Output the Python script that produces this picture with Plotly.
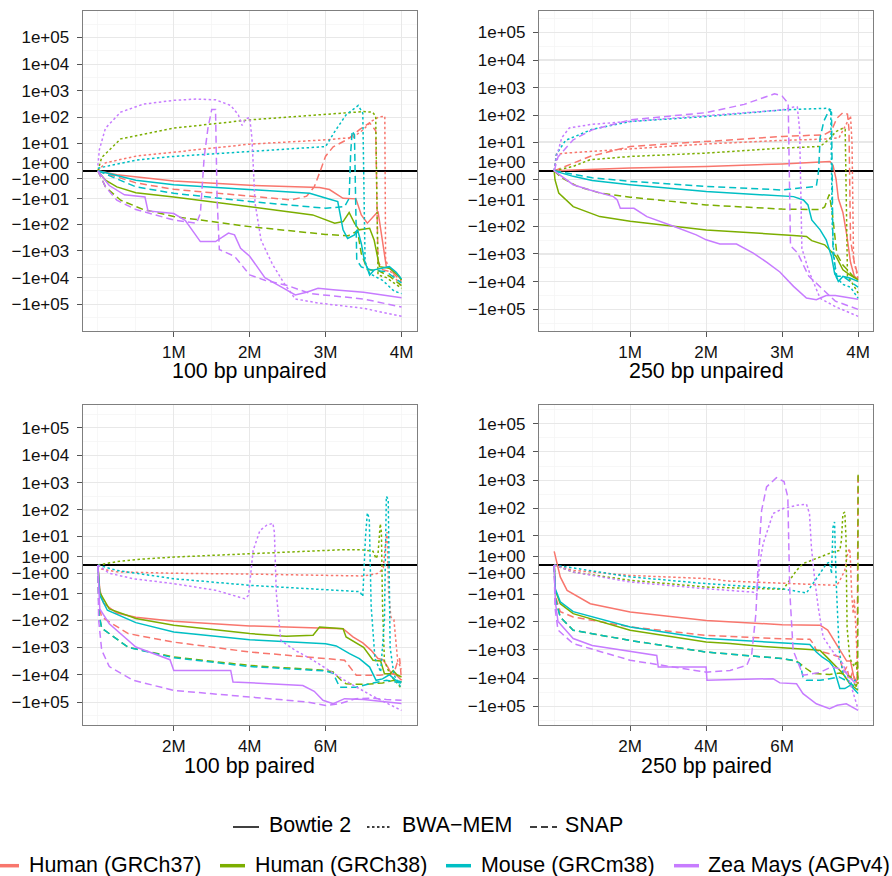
import numpy as np
import plotly.graph_objects as go

# ---------------- data (x: millions of reads, y: cumulative difference) ----------------
# ----- 100 bp unpaired -----
u100_h37_bt_x = [0, 0.25, 1, 2, 2.6, 2.92, 3.05, 3.23, 3.40, 3.47, 3.55, 3.69, 3.80, 3.90, 4.0]
u100_h37_bt_y = [0, -0.41, -1.4, -2.47, -2.98, -3.17, -4.0, -9.7, -10.2, -43.7, -90.2, -32.1, -3889, -5622, -12303]
u100_h37_bwa_x = [0, 0.1, 0.5, 1, 2, 3, 3.36, 3.5, 3.6, 3.7, 3.78, 3.79, 3.86, 4.0]
u100_h37_bwa_y = [0, 1.0, 2.55, 4.01, 9, 13.5, 16.8, 34.5, 69.8, 104, 111, -2187, -6025, -21878]
u100_h37_snap_x = [0, 0.5, 1, 2, 2.55, 2.75, 2.85, 2.93, 3.0, 3.1, 3.3, 3.45, 3.58, 3.66, 3.69, 3.75, 3.88, 4.0]
u100_h37_snap_y = [0, -1.82, -3.9, -8.12, -11.3, -7.91, -2.98, 0, 2.55, 6.94, 14.8, 34.5, 62.1, 30.6, -2511, -5011, -6309, -14125]
u100_h38_bt_x = [0, 0.1, 0.25, 0.5, 1, 2, 2.6, 2.83, 3.12, 3.23, 3.31, 3.38, 3.44, 3.58, 3.64, 3.71, 3.84, 3.97, 4.0]
u100_h38_bt_y = [0, -1.24, -2.98, -5.61, -8.55, -20.9, -34.5, -43.7, -90.2, -78.4, -35.3, -90.2, -161, -140, -397, -3889, -4466, -9119, -12303]
u100_h38_bwa_x = [0, 0.05, 0.3, 1, 2, 3, 3.5, 3.62, 3.66, 3.69, 3.8, 4.0]
u100_h38_bwa_y = [0, 2.16, 14.8, 38.8, 80.3, 134, 165, 157, 109, -7942, -10000, -25119]
u100_h38_snap_x = [0, 0.1, 0.3, 0.6, 1, 2, 3, 3.3, 3.42, 3.47, 3.55, 3.7, 3.85, 4.0]
u100_h38_snap_y = [0, -2.98, -11.6, -27.2, -50.3, -122, -239, -268, -177, -1258, -5011, -5622, -9119, -19953]
u100_mm_bt_x = [0, 0.5, 1, 2, 2.79, 3.01, 3.16, 3.23, 3.29, 3.38, 3.42, 3.47, 3.51, 3.58, 3.64, 3.84, 3.93, 4.0]
u100_mm_bt_y = [0, -1.24, -2.31, -4.13, -5.92, -9.7, -13.1, -161, -338, -250, -157, -524, -2187, -7942, -5128, -3889, -6309, -11220]
u100_mm_bwa_x = [0, 0.5, 1, 2, 3, 3.12, 3.27, 3.43, 3.49, 3.52, 3.58, 3.75, 3.9, 4.0]
u100_mm_bwa_y = [0.26, 1.51, 2.47, 4.25, 7.13, 28.5, 125, 281, 144, -2511, -7078, -12589, -31623, -39811]
u100_mm_snap_x = [0, 0.5, 1, 2, 3, 3.25, 3.31, 3.33, 3.35, 3.38, 3.41, 3.47, 3.6, 3.8, 4.0]
u100_mm_snap_y = [0, -2.98, -5.92, -13.1, -24.1, -20.9, -9.7, 3.57, 30.6, 21.4, -2187, -3980, -5128, -6025, -15849]
u100_zm_bt_x = [0, 0.15, 0.35, 0.62, 0.66, 1.0, 1.15, 1.35, 1.55, 1.72, 1.8, 1.88, 2.0, 2.2, 2.45, 2.6, 2.75, 2.9, 3.1, 3.5, 4.0]
u100_zm_bt_y = [0, -2.55, -6.94, -8.55, -30.6, -38.8, -69.8, -446, -446, -213, -250, -793, -1584, -10000, -25119, -44668, -35481, -25119, -28184, -35481, -56234]
u100_zm_bwa_x = [0, 0.02, 0.1, 0.3, 0.6, 1.0, 1.3, 1.55, 1.75, 1.85, 1.9, 1.95, 2.0, 2.03, 2.07, 2.15, 2.3, 2.45, 2.6, 2.9, 3.5, 4.0]
u100_zm_bwa_y = [0.58, 5.31, 38.8, 157, 315, 436, 489, 456, 281, 125, 49.1, 88.1, 99, 14.8, -14.8, -397, -3161, -15849, -63096, -89125, -141254, -281838]
u100_zm_snap_x = [0, 0.1, 0.25, 0.5, 1.0, 1.3, 1.35, 1.4, 1.45, 1.5, 1.55, 1.57, 1.6, 1.8, 2.0, 2.2, 2.5, 2.8, 3.5, 4.0]
u100_zm_snap_y = [0, -2.98, -11.6, -27.2, -68.2, -90.2, -38.8, 2.16, 38.8, 199, 199, -9, -890, -1584, -7942, -12589, -19953, -39811, -63096, -125893]

# ----- 250 bp unpaired -----
u250_h37_bt_x = [0, 1, 2, 3, 3.63, 3.67, 3.71, 3.74, 3.8, 3.85, 3.9, 3.95, 4.0]
u250_h37_bt_y = [0, 0.26, 0.45, 0.78, 1.19, 0.58, -1.0, -9, -30.6, -199, -1994, -6309, -8510]
u250_h37_bwa_x = [0, 0.03, 0.2, 1, 2, 3, 3.6, 3.75, 3.85, 3.9, 3.92, 3.94, 4.0]
u250_h37_bwa_y = [0, 2.98, 3.47, 5.03, 8.33, 11.6, 13.1, 14.8, 49.1, 94.5, 9, -1584, -7942]
u250_h37_snap_x = [0, 0.25, 0.47, 1, 2, 3, 3.55, 3.65, 3.72, 3.8, 3.86, 3.88, 3.9, 3.95, 4.0]
u250_h37_snap_y = [0, 0.91, 2.31, 6.59, 10.5, 16.4, 19, 27.2, 78.4, 125, 111, 30.6, -315, -1994, -6309]
u250_h38_bt_x = [0, 0.01, 0.06, 0.25, 0.6, 1, 2, 3, 3.15, 3.32, 3.39, 3.56, 3.63, 3.71, 3.8, 3.89, 4.0]
u250_h38_bt_y = [0, -1.09, -5.31, -18.5, -43.7, -65.1, -134, -190, -213, -233, -330, -467, -707, -1229, -3714, -5622, -8510]
u250_h38_bwa_x = [0, 0.25, 0.47, 1, 2, 3, 3.5, 3.61, 3.71, 3.8, 3.83, 3.86, 3.9, 4.0]
u250_h38_bwa_y = [0, 0.45, 1.51, 2.31, 3.37, 5.61, 6.59, 12.2, 25.3, 33.7, 30.6, -6456, -8912, -25704]
u250_h38_snap_x = [0, 0.1, 0.3, 0.6, 1, 2, 3, 3.5, 3.56, 3.62, 3.66, 3.72, 3.8, 3.9, 4.0]
u250_h38_snap_y = [0, -0.78, -2.55, -5.31, -7.91, -16, -23, -24.1, -19, -6.08, -30.6, -999, -2511, -5011, -10000]
u250_mm_bt_x = [0, 0.25, 0.5, 1, 2, 3, 3.15, 3.28, 3.34, 3.39, 3.5, 3.58, 3.65, 3.69, 3.74, 3.8, 3.89, 4.0]
u250_mm_bt_y = [0, -0.58, -1.24, -2.16, -4.62, -6.94, -7.51, -10.2, -16, -57.9, -134, -308, -1229, -4897, -9771, -6456, -7412, -9771]
u250_mm_bwa_x = [0, 0.03, 0.15, 0.5, 1, 2, 3, 3.6, 3.64, 3.66, 3.7, 3.8, 3.9, 4.0]
u250_mm_bwa_y = [0, 2.98, 11.6, 30.6, 59.3, 90.2, 157, 181, 157, -99, -6309, -12589, -15849, -39811]
u250_mm_snap_x = [0, 0.5, 1, 2, 3, 3.45, 3.48, 3.5, 3.55, 3.62, 3.65, 3.67, 3.72, 3.8, 4.0]
u250_mm_snap_y = [0, -0.78, -1.4, -2.63, -3.9, -2.63, 0, 14.8, 62.1, 157, 125, -999, -6309, -6309, -15849]
u250_zm_bt_x = [0, 0.25, 0.47, 0.78, 0.83, 0.87, 1.05, 1.22, 1.57, 1.87, 2.0, 2.18, 2.4, 2.62, 2.8, 2.97, 3.15, 3.32, 3.45, 3.58, 3.7, 4.0]
u250_zm_bt_y = [0, -2.16, -3.9, -7.51, -10.2, -21.4, -21.4, -43.7, -99, -203, -308, -436, -436, -932, -1994, -4466, -14791, -38905, -44668, -31623, -31623, -42658]
u250_zm_bwa_x = [0, 0.03, 0.1, 0.2, 0.5, 1, 2, 2.5, 3.0, 3.15, 3.2, 3.23, 3.26, 3.35, 3.5, 3.7, 4.0]
u250_zm_bwa_y = [0, 2.16, 14.8, 34.5, 46.9, 59.3, 99, 125, 157, 199, 199, 30.6, -630, -3980, -39811, -79433, -177828]
u250_zm_snap_x = [0, 0.05, 0.25, 0.5, 1, 2, 2.5, 2.9, 3.0, 3.08, 3.11, 3.2, 3.35, 3.5, 3.7, 4.0]
u250_zm_snap_y = [0, 2.16, 12.2, 29.2, 68.2, 125, 250, 602, 500, 274, -500, -890, -6309, -15849, -50119, -100000]

# ----- 100 bp paired -----
p100_h37_bt_x = [0, 0.05, 0.15, 0.5, 1, 2, 4, 6, 6.46, 6.72, 6.98, 7.2, 7.38, 7.51, 7.64, 7.73, 7.85, 8.0]
p100_h37_bt_y = [0, -6.94, -24.1, -55.2, -78.4, -111, -165, -199, -208, -416, -691, -1287, -2569, -2817, -5247, -9119, -10000, -15849]
p100_h37_bwa_x = [0, 0.1, 0.5, 2, 4, 6, 7.0, 7.4, 7.52, 7.58, 7.62, 7.66, 7.72, 7.8, 7.85, 7.9, 8.0]
p100_h37_bwa_y = [0, -0.41, -0.78, -1.0, -1.14, -1.4, -1.51, -1.0, -0.26, 5.31, 14.8, -9, -78.4, -99, -793, -3161, -6309]
p100_h37_snap_x = [0, 0.03, 0.1, 0.8, 2, 4, 6, 6.5, 6.81, 7.42, 7.8, 7.9, 7.95, 8.0]
p100_h37_snap_y = [0, -30.6, -78.4, -315, -645, -1478, -2569, -2950, -10471, -10471, -8912, -3161, -2511, -15849]
p100_h38_bt_x = [0, 0.05, 0.3, 1, 2, 4, 4.96, 5.67, 5.84, 6.46, 6.54, 7.0, 7.25, 7.45, 7.55, 7.7, 7.78, 7.88, 8.0]
p100_h38_bt_y = [0, -9, -38.8, -88.1, -157, -315, -397, -362, -181, -208, -416, -999, -2950, -3161, -9119, -9119, -7078, -10000, -12023]
p100_h38_bwa_x = [0, 0.5, 1, 2, 4, 6, 6.5, 7.0, 7.25, 7.33, 7.38, 7.44, 7.47, 7.5, 7.55, 7.7, 8.0]
p100_h38_bwa_y = [0, 0.32, 0.58, 0.95, 1.57, 2.39, 2.63, 2.55, 2.16, 0.7, 1.51, 30.6, 14.8, -30.6, -3161, -10000, -31623]
p100_h38_snap_x = [0, 0.03, 0.1, 0.8, 2, 4, 6, 6.2, 6.41, 6.54, 7.0, 7.5, 7.8, 8.0]
p100_h38_snap_y = [0, -62.1, -199, -999, -2238, -4570, -6917, -7942, -15849, -21380, -22387, -19953, -15849, -18197]
p100_mm_bt_x = [0, 0.05, 0.25, 1, 2, 4, 6, 6.28, 6.63, 6.89, 7.16, 7.33, 7.5, 7.68, 7.85, 8.0]
p100_mm_bt_y = [0, -11.6, -43.7, -125, -274, -524, -740, -890, -1697, -2569, -5247, -15849, -14125, -10000, -15849, -18197]
p100_mm_bwa_x = [0, 0.5, 2, 4, 6, 6.9, 6.98, 7.05, 7.1, 7.15, 7.2, 7.3, 7.45, 7.55, 7.6, 7.65, 7.7, 7.8, 8.0]
p100_mm_bwa_y = [0, -0.58, -2.16, -4.5, -6.94, -8.33, -13.1, 9, 78.4, 49.1, -30.6, -2511, -7942, -99, 315, 250, -999, -10000, -31623]
p100_mm_snap_x = [0, 0.03, 0.1, 0.8, 2, 4, 6, 6.2, 6.37, 6.8, 7.25, 7.6, 8.0]
p100_mm_snap_y = [0, -62.1, -199, -999, -2398, -5011, -7244, -8912, -28184, -28184, -19953, -15849, -19953]
p100_zm_bt_x = [0, 0.05, 0.3, 1.0, 1.9, 2.0, 3.5, 3.56, 5.4, 5.7, 5.93, 6.2, 6.5, 7.0, 8.0]
p100_zm_bt_y = [0, -38.8, -137, -976, -2817, -6917, -6917, -18197, -24547, -39811, -85114, -112202, -74131, -79433, -112202]
p100_zm_bwa_x = [0, 0.3, 0.93, 2, 3.1, 3.56, 3.87, 3.97, 4.09, 4.27, 4.45, 4.61, 4.65, 4.7, 4.82, 5.2, 5.67, 6.5, 7.2, 8.0]
p100_zm_bwa_y = [0, -1.0, -2.16, -3.79, -7.32, -11.6, -16, -11.6, 2.39, 17.2, 27.2, 32.1, 14.8, -9, -561, -1287, -2950, -15849, -56234, -199526]
p100_zm_snap_x = [0, 0.02, 0.1, 0.3, 0.93, 2, 4, 5.5, 6.0, 6.37, 6.8, 7.2, 7.6, 8.0]
p100_zm_snap_y = [0, -99, -1258, -5011, -15849, -37154, -64565, -97724, -131826, -112202, -74131, -70795, -79433, -85114]

# ----- 250 bp paired -----
p250_h37_bt_x = [0, 0.07, 0.16, 0.34, 0.95, 2, 4, 6, 7.0, 7.2, 7.4, 7.55, 7.7, 7.8, 7.9, 8.0]
p250_h37_bt_y = [2.02, 0.12, -1.63, -6.94, -22.4, -44.7, -90.2, -128, -134, -199, -561, -1258, -2511, -2511, -11220, -15849]
p250_h37_bwa_x = [0, 0.5, 2, 4, 4.63, 6.38, 7.43, 7.5, 7.65, 7.73, 7.78, 7.8, 7.83, 7.87, 7.9, 7.95, 8.0]
p250_h37_bwa_y = [0, -0.55, -1.34, -2.02, -2.72, -3.57, -4.25, -2.98, -0.55, 1.88, 2.8, 0.26, -9, -51.5, -14.8, -315, -12023]
p250_h37_snap_x = [0, 0.03, 0.16, 0.5, 2, 4, 6, 6.73, 6.82, 6.9, 7.25, 7.5, 7.62, 7.7, 7.78, 7.85, 7.97, 8.0]
p250_h37_snap_y = [0, -11.6, -43.7, -68.2, -154, -308, -406, -426, -602, -1046, -1379, -1777, -6309, -3980, -12023, -6309, -15849, 1584]
p250_h38_bt_x = [0, 0.03, 0.16, 0.5, 2, 4, 4.63, 5.5, 6.82, 7.0, 7.17, 7.4, 7.6, 7.78, 8.0]
p250_h38_bt_y = [0, -6.94, -22.4, -51.5, -203, -524, -602, -758, -999, -1046, -1777, -3547, -6917, -15849, -26915]
p250_h38_bwa_x = [0, 0.5, 2, 4, 6.03, 6.38, 6.55, 6.99, 7.34, 7.52, 7.56, 7.6, 7.65, 7.68, 7.71, 7.78, 7.9, 7.95, 8.0]
p250_h38_bwa_y = [0, -0.78, -2.47, -5.03, -6.24, -0.55, 0.12, 0.91, 1.88, 2.31, 6.41, 65.1, 73.1, 9, -157, -1994, -3980, -2511, -15849]
p250_h38_snap_x = [0, 0.03, 0.16, 0.5, 2, 4, 6, 6.38, 6.64, 6.82, 7.25, 7.52, 7.8, 7.95, 7.99, 8.0]
p250_h38_snap_y = [0, -14.8, -68.2, -203, -467, -1201, -2041, -2511, -4676, -6917, -7412, -6606, -8912, -19953, -12589, 1584]
p250_mm_bt_x = [0, 0.03, 0.16, 0.5, 2, 4, 6.73, 6.9, 7.05, 7.25, 7.35, 7.52, 7.65, 7.8, 8.0]
p250_mm_bt_y = [0, -6.08, -19, -43.7, -154, -397, -645, -1201, -1777, -2691, -3980, -23442, -23442, -17782, -35481]
p250_mm_bwa_x = [0, 2, 4, 6, 6.64, 6.82, 6.99, 7.17, 7.25, 7.3, 7.34, 7.38, 7.42, 7.5, 7.6, 7.8, 8.0]
p250_mm_bwa_y = [0, -1.63, -3.57, -5.92, -8.77, -3.57, -1.04, 0.12, 0.26, -1.0, 20.9, 32.1, -2.16, -999, -6917, -15849, -10000]
p250_mm_snap_x = [0, 0.03, 0.16, 0.5, 2, 4, 6, 6.29, 6.47, 6.55, 6.64, 7.0, 7.25, 7.5, 7.7, 8.0]
p250_mm_snap_y = [0, -14.8, -68.2, -203, -467, -1201, -2041, -2343, -3089, -9119, -12023, -12023, -10471, -9119, -12589, -23442]
p250_zm_bt_x = [0, 0.03, 0.1, 0.5, 1, 2, 2.7, 2.74, 4.0, 4.02, 5.76, 5.94, 6.38, 6.55, 6.9, 7.25, 7.45, 7.69, 8.0]
p250_zm_bt_y = [0, -19, -99, -397, -707, -1121, -1584, -4073, -4073, -12023, -10471, -14791, -15849, -35481, -81283, -120226, -91201, -81283, -138038]
p250_zm_bwa_x = [0, 0.5, 2, 4, 5.24, 5.33, 5.41, 5.5, 5.76, 6.03, 6.38, 6.64, 6.72, 6.77, 6.86, 6.95, 7.08, 7.3, 7.6, 7.8, 8.0]
p250_zm_bwa_y = [0, -0.78, -2.98, -5.92, -8.12, -10.7, 0.12, 4.62, 65.1, 99, 128, 140, 65.1, 3.37, -2.47, -29.9, -354, -999, -3161, -15849, -125893]
p250_zm_snap_x = [0, 0.02, 0.1, 0.5, 2, 4, 4.63, 5.07, 5.2, 5.31, 5.37, 5.46, 5.59, 5.85, 6.05, 6.15, 6.2, 6.29, 6.55, 7.0, 7.3, 7.6, 8.0]
p250_zm_snap_y = [0, -30.6, -199, -602, -2343, -6165, -5369, -3547, -1379, -51.5, 0.12, 84.1, 574, 1229, 890, 250, -6.94, -1046, -7942, -6309, -3980, -5011, -19953]

# ---------------- categories / labels ----------------
panel_keys = ["u100", "u250", "p100", "p250"]
panel_titles = ["100 bp unpaired", "250 bp unpaired", "100 bp paired", "250 bp paired"]
genome_keys = ["h37", "h38", "mm", "zm"]
genome_names = ["Human (GRCh37)", "Human (GRCh38)", "Mouse (GRCm38)", "Zea Mays (AGPv4)"]
aligner_keys = ["bt", "bwa", "snap"]
aligner_names = ["Bowtie 2", "BWA\u2212MEM", "SNAP"]

ytick_raw = [1e5, 1e4, 1e3, 1e2, 1e1, 1e0, -1e0, -1e1, -1e2, -1e3, -1e4, -1e5]
ytick_text = ["1e+05", "1e+04", "1e+03", "1e+02", "1e+01", "1e+00",
              "\u22121e+00", "\u22121e+01", "\u22121e+02", "\u22121e+03", "\u22121e+04", "\u22121e+05"]
top_xticks = [1, 2, 3, 4]
top_xtext = ["1M", "2M", "3M", "4M"]
bot_xticks = [2, 4, 6]
bot_xtext = ["2M", "4M", "6M"]

# ---------------- styling ----------------
COLORS = {"h37": "#F8766D", "h38": "#7CAE00", "mm": "#00BFC4", "zm": "#C77CFF"}
DASHES = {"bt": "solid", "bwa": "2.5px,2.5px", "snap": "7px,4px"}
FONT = "Liberation Sans, Arial, Helvetica, sans-serif"
W, H = 892, 876


def symlog(v):
    v = np.asarray(v, dtype=float)
    return np.sign(v) * np.log10(1.0 + np.abs(v))


# panel pixel boxes (left, right, top, bottom)
boxes = [(82.7, 416.7, 10.7, 331.0), (539.0, 873.3, 10.7, 331.0),
         (82.7, 416.7, 405.0, 725.0), (539.0, 873.3, 405.0, 725.0)]
yranges = [6.0, 5.78, 5.83, 5.66]
xranges = [(-0.2, 4.2), (-0.2, 4.2), (-0.4, 8.4), (-0.4, 8.4)]

fig = go.Figure()

for pi, pk in enumerate(panel_keys):
    ax = "" if pi == 0 else str(pi + 1)
    for gk in genome_keys:
        for ak in aligner_keys:
            xs = globals()[f"{pk}_{gk}_{ak}_x"]
            ys = globals()[f"{pk}_{gk}_{ak}_y"]
            fig.add_trace(go.Scatter(
                x=xs, y=symlog(ys), mode="lines",
                line=dict(color=COLORS[gk], width=1.5, dash=DASHES[ak]),
                xaxis="x" + ax, yaxis="y" + ax, showlegend=False,
                hoverinfo="skip"))

t_major = symlog(ytick_raw)
t_sorted = np.sort(t_major)
t_ext = np.concatenate([[t_sorted[0] - 1.0], t_sorted, [t_sorted[-1] + 1.0]])
y_minor = list((t_ext[:-1] + t_ext[1:]) / 2.0)

layout = dict(
    width=W, height=H, margin=dict(l=0, r=0, t=0, b=0),
    paper_bgcolor="white", plot_bgcolor="white",
    font=dict(family=FONT, color="black"),
    showlegend=False,
)

for pi in range(4):
    l, r, t, b = boxes[pi]
    ax = "" if pi == 0 else str(pi + 1)
    top = pi < 2
    xt = top_xticks if top else bot_xticks
    xtt = top_xtext if top else bot_xtext
    xminor = [0, 0.5, 1.5, 2.5, 3.5] if top else [0, 1, 3, 5, 7, 8]
    layout["xaxis" + ax] = dict(
        domain=[l / W, r / W], anchor="y" + ax, range=list(xranges[pi]),
        tickmode="array", tickvals=xt, ticktext=xtt,
        ticks="outside", ticklen=5, tickwidth=1, tickcolor="#555555",
        tickfont=dict(size=17, color="#111111", family=FONT),
        showline=True, mirror=True, linecolor="#7F7F7F", linewidth=1.1,
        showgrid=True, gridcolor="#E8E8E8", gridwidth=1.1, zeroline=False,
        minor=dict(tickvals=xminor, showgrid=True, gridcolor="#F3F3F3", gridwidth=0.7, ticks=""),
    )
    yr = yranges[pi]
    layout["yaxis" + ax] = dict(
        domain=[1 - b / H, 1 - t / H], anchor="x" + ax, range=[-yr, yr],
        tickmode="array", tickvals=list(t_major), ticktext=ytick_text,
        ticks="outside", ticklen=5, tickwidth=1, tickcolor="#555555",
        tickfont=dict(size=17, color="#111111", family=FONT),
        ticklabelstandoff=4,
        showline=True, mirror=True, linecolor="#7F7F7F", linewidth=1.1,
        showgrid=True, gridcolor="#E8E8E8", gridwidth=1.1,
        zeroline=True, zerolinecolor="black", zerolinewidth=1.6,
        minor=dict(tickvals=y_minor, showgrid=True, gridcolor="#F3F3F3", gridwidth=0.7, ticks=""),
    )

annotations = []
title_y = [371.0, 371.0, 766.0, 766.0]
for pi in range(4):
    l, r, t, b = boxes[pi]
    annotations.append(dict(
        text=panel_titles[pi], x=(l + r) / 2 / W, y=1 - title_y[pi] / H,
        xref="paper", yref="paper", xanchor="center", yanchor="middle",
        showarrow=False, font=dict(size=21.4, family=FONT, color="black")))

# legend (drawn manually in paper coordinates)
shapes = []
row1_y = 827.0
row1_keys = [(233, 259), (367, 390), (530, 557)]
row1_text_x = [266.7, 400.0, 563.0]
for i, ak in enumerate(aligner_keys):
    x0, x1 = row1_keys[i]
    shapes.append(dict(type="line", xref="paper", yref="paper",
                       x0=x0 / W, x1=x1 / W, y0=1 - row1_y / H, y1=1 - row1_y / H,
                       line=dict(color="black", width=1.5, dash=DASHES[ak])))
    annotations.append(dict(text=aligner_names[i], x=row1_text_x[i] / W, y=1 - 825.0 / H,
                            xref="paper", yref="paper", xanchor="left", yanchor="middle",
                            showarrow=False, font=dict(size=21.4, family=FONT, color="black")))

row2_y = 865.7
row2_keys = [(-6, 19), (220, 245), (446, 471), (674, 699)]
row2_text_x = [27.3, 253.0, 479.0, 706.0]
for i, gk in enumerate(genome_keys):
    x0, x1 = row2_keys[i]
    shapes.append(dict(type="line", xref="paper", yref="paper",
                       x0=x0 / W, x1=x1 / W, y0=1 - row2_y / H, y1=1 - row2_y / H,
                       line=dict(color=COLORS[gk], width=3.5)))
    annotations.append(dict(text=genome_names[i], x=row2_text_x[i] / W, y=1 - 865.0 / H,
                            xref="paper", yref="paper", xanchor="left", yanchor="middle",
                            showarrow=False, font=dict(size=21.4, family=FONT, color="black")))

layout["annotations"] = annotations
layout["shapes"] = shapes
fig.update_layout(**layout)

fig.write_html(
    "out.html",
    config={"displayModeBar": False, "staticPlot": True},
    post_script="document.body.style.margin='0px';document.body.style.padding='0px';"
                "document.body.style.overflow='hidden';",
)
